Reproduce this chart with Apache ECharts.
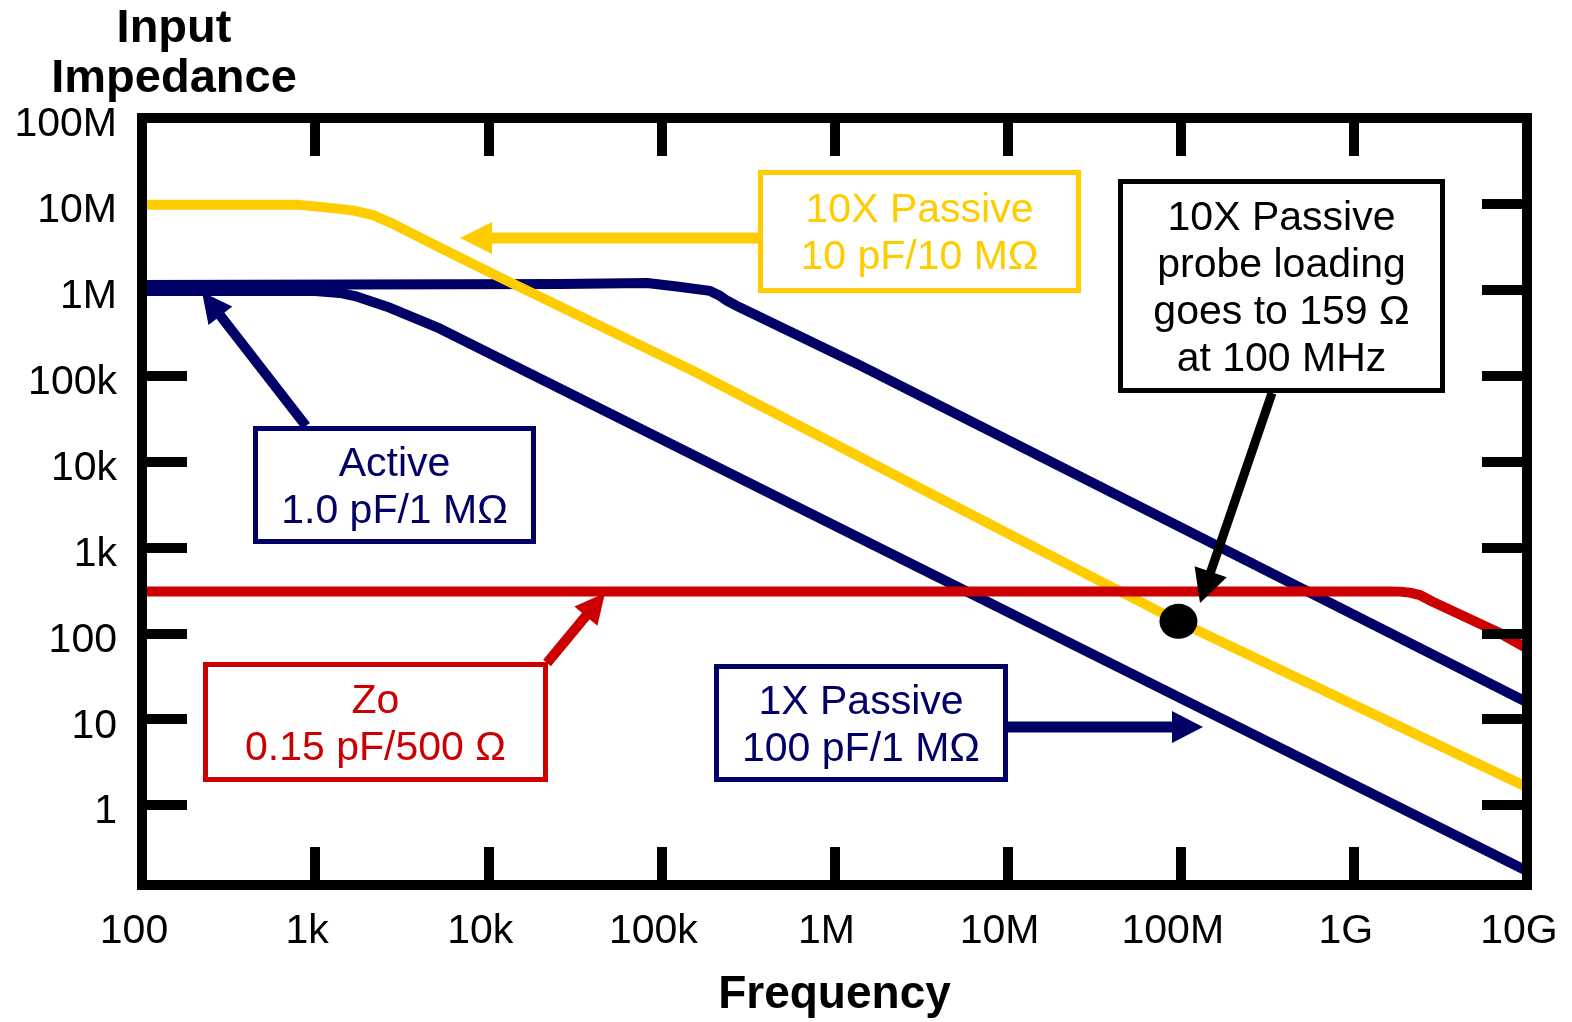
<!DOCTYPE html>
<html><head><meta charset="utf-8">
<script src="https://cdn.jsdelivr.net/npm/echarts@6/dist/echarts.min.js"></script>
<style>html,body{margin:0;padding:0;background:#fff}#c{width:1572px;height:1022px}</style>
</head><body><div id="c"></div>
<script>
// ---- tick labels ----
const xTickValues = [1e2, 1e3, 1e4, 1e5, 1e6, 1e7, 1e8, 1e9, 1e10];
const xTickLabels = ['100', '1k', '10k', '100k', '1M', '10M', '100M', '1G', '10G'];
const yTickValues = [1, 10, 100, 1e3, 1e4, 1e5, 1e6, 1e7, 1e8];
const yTickLabels = ['1', '10', '100', '1k', '10k', '100k', '1M', '10M', '100M'];
const yLeftTickValues = [1, 10, 100, 1e3, 1e4, 1e5];
const yAxisMin = 0.1175;   // bottom of frame

// ---- series (frequency Hz, impedance ohm) ----
const passive10xFreq = [100, 785, 1390, 1700, 2160, 2820, 5270, 12850, 152000, 9.66e7, 1e10];
const passive10xZ    = [9.8e6, 9.8e6, 8.75e6, 8.3e6, 7.4e6, 5.85e6, 3.09e6, 1.27e6, 1.14e5, 138, 1.62];

const activeFreq = [100, 26000, 82700, 123000, 191000, 218000, 240000, 285000, 1.41e6, 1e10];
const activeZ    = [1.14e6, 1.17e6, 1.2e6, 1.09e6, 9.7e5, 8.5e5, 7.45e5, 6.2e5, 1.31e5, 15.8];

const passive1xFreq = [100, 1000, 1393, 1750, 2710, 5270, 1e10];
const passive1xZ    = [9.7e5, 9.7e5, 9.2e5, 8.3e5, 6.17e5, 3.52e5, 0.171];

const zoFreq = [100, 1.6e9, 1.85e9, 2.1e9, 2.42e9, 2.87e9, 3.46e9, 7.0e9, 1e10];
const zoZ    = [308, 308, 306, 298, 278, 232, 195, 100, 67];

const markerFreq = [9.7e7];
const markerZ    = [138];

// ---- colours / fonts ----
const NAVY = '#000066', YELLOW = '#FFCC00', RED = '#CC0000', BLACK = '#000000';
const FONT = "'Liberation Sans', Arial, Helvetica, sans-serif";

function zip(a, b) { return a.map((v, i) => [v, b[i]]); }
function fmt(values, labels) {
  return function (v) {
    const l = Math.log10(v);
    for (let i = 0; i < values.length; i++) {
      if (Math.abs(Math.log10(values[i]) - l) < 1e-4) return '{a|' + labels[i] + '}';
    }
    return '';
  };
}

const chart = echarts.init(document.getElementById('c'));

const frameLine = { show: true, lineStyle: { color: BLACK, width: 10, cap: 'square' } };
const noLine = { show: false };

function xAx(pos, showLabel, z) {
  return {
    type: 'log', logBase: 10, position: pos,
    min: xTickValues[0], max: xTickValues[xTickValues.length - 1],
    z: z,
    axisLine: frameLine,
    axisTick: { show: true, inside: true, length: 38, lineStyle: { color: BLACK, width: 10 } },
    minorTick: { show: false }, splitLine: { show: false }, minorSplitLine: { show: false },
    axisLabel: {
      show: showLabel, formatter: fmt(xTickValues, xTickLabels), margin: 26,
      fontFamily: FONT, fontSize: 41, color: BLACK,
      rich: { a: { fontFamily: FONT, fontSize: 41, color: BLACK, padding: [0, 16, 0, 0] } }
    },
    name: showLabel ? 'Frequency' : '', nameLocation: 'middle', nameGap: 87,
    nameTextStyle: { fontFamily: FONT, fontSize: 46, fontWeight: 'bold', color: BLACK }
  };
}
function yAx(pos, opts) {
  return Object.assign({
    type: 'log', logBase: 10, position: pos,
    min: yAxisMin, max: yTickValues[yTickValues.length - 1],
    z: 10,
    axisLine: frameLine,
    axisTick: { show: true, inside: true, length: 45, lineStyle: { color: BLACK, width: 10 } },
    minorTick: { show: false }, splitLine: { show: false }, minorSplitLine: { show: false },
    axisLabel: { show: false }
  }, opts);
}

function arrow(x1, y1, x2, y2, color, w, L, H) {
  const dx = x2 - x1, dy = y2 - y1, len = Math.hypot(dx, dy);
  const ux = dx / len, uy = dy / len, px = -uy, py = ux;
  const bx = x2 - ux * L, by = y2 - uy * L;
  return [
    { type: 'line', z: 50, shape: { x1: x1, y1: y1, x2: bx + ux * 2, y2: by + uy * 2 },
      style: { stroke: color, lineWidth: w } },
    { type: 'polygon', z: 50, shape: { points: [[x2, y2], [bx + px * H, by + py * H], [bx - px * H, by - py * H]] },
      style: { fill: color } }
  ];
}
function box(x0, y0, x1, y1, color, text, lineHeight) {
  return [
    { type: 'rect', z: 60, shape: { x: x0 + 2.5, y: y0 + 2.5, width: x1 - x0 - 5, height: y1 - y0 - 5 },
      style: { fill: '#ffffff', stroke: color, lineWidth: 5 } },
    { type: 'text', z: 61, style: { text: text, x: (x0 + x1) / 2, y: (y0 + y1) / 2 + 3, align: 'center',
      verticalAlign: 'middle', fill: color, font: '41px ' + FONT, lineHeight: lineHeight } }
  ];
}

const graphics = [].concat(
  arrow(758, 238, 460, 238, YELLOW, 11, 32, 16),
  arrow(1272, 393, 1200, 603, BLACK, 9, 33, 17),
  arrow(306, 426, 202, 292, NAVY, 10, 30, 15),
  arrow(547, 663, 605, 593, RED, 10, 30, 15),
  arrow(1008, 727, 1203, 727, NAVY, 11, 31, 16),
  box(758, 170, 1081, 293, YELLOW, '10X Passive\n10 pF/10 M\u03A9', 47),
  box(1118, 179, 1445, 393, BLACK, '10X Passive\nprobe loading\ngoes to 159 \u03A9\nat 100 MHz', 47),
  box(253, 426, 536, 544, NAVY, 'Active\n1.0 pF/1 M\u03A9', 47),
  box(203, 662, 548, 782, RED, 'Zo\n0.15 pF/500 \u03A9', 47),
  box(714, 664, 1008, 782, NAVY, '1X Passive\n100 pF/1 M\u03A9', 47),
  [{ type: 'text', z: 61, style: { text: 'Input\nImpedance', x: 174, y: 54, align: 'center', verticalAlign: 'middle',
     fill: BLACK, font: 'bold 47px ' + FONT, lineHeight: 49.5 } }]
);

function lineSeries(name, data, color, z) {
  return { name: name, type: 'line', data: data, xAxisIndex: 0, yAxisIndex: 0,
    symbol: 'none', showSymbol: false, z: z, clip: true,
    lineStyle: { color: color, width: 10, join: 'round', cap: 'butt' } };
}

chart.setOption({
  animation: false,
  backgroundColor: '#ffffff',
  grid: { left: 142, right: 45, top: 118, bottom: 137, containLabel: false, outerBoundsMode: 'none' },
  xAxis: [xAx('bottom', true, 10), xAx('top', false, 10)],
  yAxis: [
    yAx('left', { axisTick: { show: false },
      axisLabel: { show: true, formatter: fmt(yTickValues, yTickLabels), margin: 25,
        fontFamily: FONT, fontSize: 41, color: BLACK,
        rich: { a: { fontFamily: FONT, fontSize: 41, color: BLACK, padding: [14, 0, 0, 0] } } } }),
    yAx('right', {}),
    yAx('left', { z: 0, axisLine: noLine,
      axisTick: { show: true, inside: true, length: 45, customValues: yLeftTickValues,
        lineStyle: { color: BLACK, width: 10 } } })
  ],
  series: [
    lineSeries('1X Passive', zip(passive1xFreq, passive1xZ), NAVY, 2),
    lineSeries('Active', zip(activeFreq, activeZ), NAVY, 2),
    lineSeries('10X Passive', zip(passive10xFreq, passive10xZ), YELLOW, 3),
    lineSeries('Zo', zip(zoFreq, zoZ), RED, 4),
    { name: '10X @ 100 MHz', type: 'scatter', data: zip(markerFreq, markerZ), xAxisIndex: 0, yAxisIndex: 0,
      symbol: 'circle', symbolSize: [38, 35], itemStyle: { color: BLACK, opacity: 1 }, z: 5 }
  ],
  graphic: graphics
});
</script>
</body></html>
